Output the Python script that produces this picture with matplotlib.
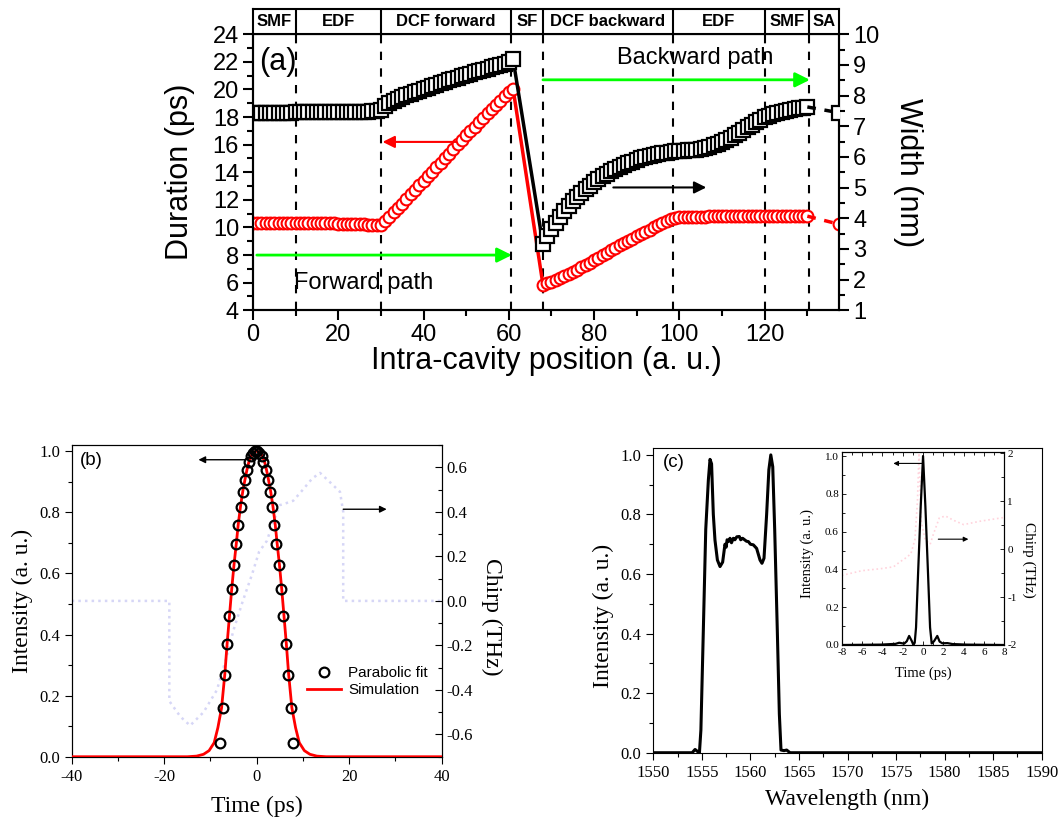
import numpy as np
import matplotlib
matplotlib.use("Agg")
import matplotlib.pyplot as plt
from matplotlib.ticker import MultipleLocator

plt.rcParams['font.family'] = ['Liberation Sans', 'DejaVu Sans']
plt.rcParams['axes.unicode_minus'] = False

# ---------------- panel (a): evolution along the cavity ----------------
pos_fwd = list(range(0, 62))
width_fwd = [7.44] * 10 + [7.45] * 10 + [
    7.46, 7.46, 7.46, 7.47, 7.47, 7.47, 7.48, 7.48, 7.49, 7.50,
    7.52,
    7.65, 7.75, 7.83, 7.90, 7.96, 8.01, 8.06, 8.11, 8.16, 8.20,
    8.25, 8.30, 8.35, 8.40, 8.45, 8.50, 8.54, 8.59, 8.63, 8.68,
    8.72, 8.76, 8.80, 8.84, 8.88, 8.92, 8.96, 9.00, 9.04, 9.08,
    9.18]
dur_fwd = [10.3] * 20 + [
    10.28, 10.27, 10.26, 10.25, 10.24, 10.23, 10.22, 10.21, 10.20, 10.18,
    10.15,
    10.45, 10.77, 11.09, 11.41, 11.73, 12.06, 12.39, 12.72, 13.05, 13.38,
    13.71, 14.04, 14.37, 14.70, 15.03, 15.36, 15.69, 16.02, 16.35, 16.67,
    16.99, 17.31, 17.63, 17.95, 18.26, 18.57, 18.88, 19.19, 19.50, 19.80,
    20.05]

pos_bwd = list(range(68, 131))
width_bwd = [
    3.15, 3.42, 3.65, 3.86, 4.05, 4.23, 4.40, 4.56, 4.70, 4.83,
    4.95, 5.06, 5.17, 5.27, 5.37, 5.45, 5.53, 5.60, 5.67, 5.74,
    5.80, 5.85, 5.90, 5.95, 5.99, 6.03, 6.06, 6.09, 6.12, 6.14, 6.16,
    6.18, 6.19, 6.20, 6.21, 6.22, 6.24, 6.27, 6.30, 6.34, 6.38,
    6.43, 6.48, 6.55, 6.62, 6.70, 6.78, 6.87, 6.96, 7.05, 7.14,
    7.22, 7.30, 7.35, 7.40, 7.44, 7.47, 7.50, 7.53, 7.56, 7.58,
    7.61, 7.63]
dur_bwd = [
    5.85, 5.95, 6.08, 6.20, 6.33, 6.47, 6.62, 6.78, 6.94, 7.10,
    7.27, 7.44, 7.62, 7.80, 7.98, 8.16, 8.34, 8.52, 8.70, 8.87,
    9.04, 9.20, 9.36, 9.52, 9.68, 9.84, 10.00, 10.15, 10.30, 10.45, 10.60,
    10.72, 10.75, 10.76, 10.77, 10.77, 10.78, 10.78, 10.79, 10.80, 10.80,
    10.81, 10.82, 10.82, 10.83, 10.83, 10.84, 10.84, 10.85, 10.85, 10.85,
    10.86, 10.86, 10.86, 10.86, 10.85, 10.85, 10.85, 10.84, 10.84, 10.83,
    10.83, 10.82]

sa_pos = [130, 137.5]
sa_width = [7.63, 7.44]
sa_dur = [10.82, 10.23]

section_edges = [0, 10, 30, 60.6, 68, 98.4, 120, 130.5, 137.5]
section_names = ['SMF', 'EDF', 'DCF forward', 'SF', 'DCF backward', 'EDF', 'SMF', 'SA']

# ---------------- panel (b): output pulse ----------------
fit_t = [-7.93, -7.35, -6.77, -6.34, -5.91, -5.40, -4.90, -4.40, -4.04, -3.46, -2.95,
         -2.45, -2.09, -1.73, -1.30, -0.86, -0.36,
         0.14, 0.58, 1.08, 1.44, 1.95, 2.38, 2.88, 3.32, 3.82, 4.25, 4.90, 5.26,
         5.77, 6.27, 6.77, 7.35, 7.78]
fit_I = [0.046, 0.161, 0.269, 0.369, 0.462, 0.548, 0.626, 0.697, 0.760, 0.817, 0.865,
         0.906, 0.940, 0.965, 0.983, 0.995, 1.0,
         1.0, 0.995, 0.983, 0.965, 0.940, 0.906, 0.865, 0.817, 0.760, 0.697, 0.626,
         0.548, 0.462, 0.369, 0.269, 0.161, 0.046]

sim_t = [-40, -20, -15, -13, -11.5, -10.3, -9.2, -8.4, -7.6, -6.9, -6.4, -5.9, -5.4,
         -4.9, -4.4, -4.0, -3.5, -3.0, -2.5, -2.1, -1.7, -1.2, -0.6, 0,
         0.6, 1.2, 1.7, 2.1, 2.5, 3.0, 3.5, 4.0, 4.4, 4.9, 5.4, 5.9, 6.4, 6.9,
         7.6, 8.4, 9.2, 10.3, 11.5, 13, 15, 20, 40]
sim_I = [0, 0, 0, 0.002, 0.008, 0.02, 0.046, 0.095, 0.16, 0.27, 0.37, 0.46, 0.55,
         0.63, 0.70, 0.76, 0.82, 0.87, 0.91, 0.94, 0.965, 0.985, 0.997, 1.0,
         0.997, 0.985, 0.965, 0.94, 0.91, 0.87, 0.82, 0.76, 0.70, 0.63, 0.55, 0.46,
         0.37, 0.27, 0.16, 0.095, 0.046, 0.02, 0.008, 0.002, 0, 0, 0]

chirp_t = [-40, -18.9, -18.9, -16.5, -14.4, -11.5, -8.6, -6.5, -5.0, -3.0, -1.0, 0.5,
           2.2, 3.5, 5.0, 6.5, 7.9, 10.0, 12.0, 13.7, 16.0, 18.0, 18.7, 18.7, 40]
chirp_b = [0, 0, -0.45, -0.52, -0.56, -0.50, -0.40, -0.25, -0.13, 0.0, 0.12, 0.22,
           0.27, 0.35, 0.43, 0.44, 0.45, 0.50, 0.55, 0.575, 0.53, 0.49, 0.40, 0, 0]

# ---------------- panel (c): spectrum + inset ----------------
wl = [1550, 1554.0, 1554.3, 1554.6, 1554.75, 1554.9, 1555.15, 1555.4, 1555.67, 1555.84,
      1556.0, 1556.18, 1556.35, 1556.6, 1556.87, 1557.14, 1557.38, 1557.5, 1557.6,
      1557.73, 1557.9, 1558.05, 1558.24, 1558.4, 1558.6, 1558.86, 1559.0, 1559.2,
      1559.44, 1559.6, 1559.79, 1560.0, 1560.3, 1560.64, 1560.99, 1561.19, 1561.4,
      1561.67, 1561.9, 1562.1, 1562.3, 1562.5, 1562.77, 1562.98, 1563.15, 1563.46,
      1563.73, 1564.08, 1590]
spec = [0, 0, 0.011, 0.003, 0.0, 0.076, 0.41, 0.75, 0.916, 0.985,
        0.97, 0.80, 0.714, 0.647, 0.625, 0.64, 0.70, 0.69, 0.715,
        0.709, 0.72, 0.705, 0.72, 0.715, 0.725, 0.726, 0.715, 0.72,
        0.714, 0.71, 0.709, 0.70, 0.698, 0.686, 0.647, 0.636, 0.653,
        0.80, 0.95, 1.0, 0.96, 0.75, 0.41, 0.13, 0.009, 0.007,
        0.009, 0.0, 0]

in_t = [-8, -4.15, -2.7, -2.35, -1.86, -1.6, -1.37, -1.1, -0.95, -0.82, -0.69, -0.49,
        -0.23, 0, 0.23, 0.49, 0.69, 0.85, 1.08, 1.4, 1.63, 1.9, 2.4, 2.9, 4.3, 8]
in_I = [0, 0.002, 0.006, 0.012, 0.007, 0.02, 0.048, 0.02, 0.0, 0.012, 0.093, 0.377,
        0.733, 1.0, 0.733, 0.377, 0.093, 0.008, 0.02, 0.048, 0.018, 0.009, 0.01,
        0.005, 0.002, 0]
in_ct = [-8, -6, -4.2, -2.9, -2.3, -1.8, -1.2, -0.8, -0.55, -0.4, -0.2, 0.2, 0.7,
         1.0, 1.6, 2.2, 3.0, 4.0, 5.6, 7.7, 8]
in_chirp = [-0.55, -0.45, -0.41, -0.37, -0.27, -0.2, -0.1, 0.2, 1.0, 2.0, 0.6, 0.2,
            0.1, 0.3, 0.65, 0.69, 0.6, 0.51, 0.58, 0.65, 0.66]

serif = ['Liberation Serif', 'DejaVu Serif']

fig = plt.figure(figsize=(10.58, 8.18), dpi=100)


def arrow(ax, x0, x1, y, color, lw, ms):
    ax.annotate('', xy=(x1, y), xytext=(x0, y),
                arrowprops=dict(arrowstyle='-|>', color=color, lw=lw,
                                mutation_scale=ms, shrinkA=0, shrinkB=0))


# ================= (a) =================
ax = fig.add_axes([0.2391, 0.6207, 0.5542, 0.3374])
ax2 = ax.twinx()
xa = pos_fwd + pos_bwd
ax.plot(xa, dur_fwd + dur_bwd, color='red', lw=2.5, marker='o', ms=8.5,
        mfc='white', mec='red', mew=1.5, zorder=3)
ax.plot(sa_pos, sa_dur, color='red', lw=2.5, ls=(0, (2.5, 2.5)), marker='o', ms=8.5,
        mfc='white', mec='red', mew=1.5, markevery=[1], zorder=3)
ax2.plot(xa, width_fwd + width_bwd, color='black', lw=2.5, marker='s', ms=9.5,
         mfc='white', mec='black', mew=1.6, zorder=3)
ax2.plot(sa_pos, sa_width, color='black', lw=2.5, ls=(0, (2.5, 2.5)), marker='s', ms=9.5,
         mfc='white', mec='black', mew=1.6, markevery=[1], zorder=3)

for xe in section_edges[1:-1]:
    ax.axvline(xe, color='black', lw=1.5, ls=(0, (4, 4)), zorder=1)

ax.set_xlim(0, 137.5)
ax.set_ylim(4, 24)
ax2.set_ylim(1, 10)
ax.xaxis.set_major_locator(MultipleLocator(20))
ax.xaxis.set_minor_locator(MultipleLocator(10))
ax.yaxis.set_major_locator(MultipleLocator(2))
ax.yaxis.set_minor_locator(MultipleLocator(1))
ax2.yaxis.set_major_locator(MultipleLocator(1))
ax2.yaxis.set_minor_locator(MultipleLocator(0.5))
for a in (ax, ax2):
    a.tick_params(which='major', direction='out', length=7, width=1.5, labelsize=17, pad=3)
    a.tick_params(which='minor', direction='out', length=4, width=1.5)
    for s in a.spines.values():
        s.set_linewidth(1.5)
ax.set_xticks([0, 20, 40, 60, 80, 100, 120])

ax.set_xlabel('Intra-cavity position (a. u.)', fontsize=22)
ax.xaxis.set_label_coords(0.5, -0.13)
ax.set_ylabel('Duration (ps)', fontsize=22, va='center')
ax.yaxis.set_label_coords(-0.125, 0.5)
ax2.set_ylabel('Width (nm)', fontsize=22, rotation=270, va='center')
ax2.yaxis.set_label_coords(1.118, 0.5)

ax.text(0.01, 0.9, '(a)', transform=ax.transAxes, fontsize=22, va='center', ha='left')
ax.text(26, 6.0, 'Forward path', fontsize=17, ha='center', va='center')
ax.text(103.7, 22.3, 'Backward path', fontsize=17, ha='center', va='center')
arrow(ax, 0.9, 60.7, 8.0, '#00ff00', 2, 22)
arrow(ax, 68.0, 130.6, 20.7, '#00ff00', 2, 22)
arrow(ax, 47.7, 30.4, 16.2, 'red', 1.5, 18)
arrow(ax, 84.5, 106.3, 12.9, 'black', 1.5, 18)

# header strip with the fibre sections
hd = fig.add_axes([0.2391, 0.9581, 0.5542, 0.0309])
hd.set_xlim(0, 137.5)
hd.set_ylim(0, 1)
hd.set_xticks([])
hd.set_yticks([])
for s in hd.spines.values():
    s.set_linewidth(1.5)
for xe in section_edges[1:-1]:
    hd.axvline(xe, color='black', lw=1.5)
for i, name in enumerate(section_names):
    xc = 0.5 * (section_edges[i] + section_edges[i + 1])
    hd.text(xc, 0.5, name, ha='center', va='center', fontsize=12, fontweight='bold')

# ================= (b) =================
bx = fig.add_axes([0.0678, 0.0749, 0.3497, 0.3810])
bx2 = bx.twinx()
bx2.plot(chirp_t, chirp_b, color='#d6d6f6', lw=1.8, ls=':', zorder=1)
bx.plot(sim_t, sim_I, color='red', lw=2, label='Simulation', zorder=3)
bx.plot(fit_t, fit_I, ls='none', marker='o', ms=7, mfc='none', mec='black', mew=1.6,
        label='Parabolic fit', zorder=4)
bx.set_zorder(bx2.get_zorder() + 1)
bx.patch.set_visible(False)
bx.set_xlim(-40, 40)
bx.set_ylim(0, 1.02)
bx2.set_ylim(-0.7, 0.7)
bx.xaxis.set_major_locator(MultipleLocator(20))
bx.xaxis.set_minor_locator(MultipleLocator(10))
bx.yaxis.set_major_locator(MultipleLocator(0.2))
bx.yaxis.set_minor_locator(MultipleLocator(0.1))
bx2.yaxis.set_major_locator(MultipleLocator(0.2))
bx2.yaxis.set_minor_locator(MultipleLocator(0.1))
bx.tick_params(which='major', direction='out', length=5, width=0.8, labelsize=12)
bx.tick_params(which='minor', direction='out', length=3, width=0.8)
bx2.tick_params(which='major', direction='in', length=5, width=0.8, labelsize=12)
bx2.tick_params(which='minor', direction='in', length=3, width=0.8)
for t in bx.get_xticklabels() + bx.get_yticklabels() + bx2.get_yticklabels():
    t.set_family(serif)
bx.yaxis.set_major_formatter(lambda v, p: f'{v:.1f}')
bx2.yaxis.set_major_formatter(lambda v, p: f'{v:.1f}')
bx.set_xlabel('Time (ps)', fontsize=17, family=serif, va='center')
bx.xaxis.set_label_coords(0.5, -0.16)
bx.set_ylabel('Intensity (a. u.)', fontsize=17, family=serif, va='center')
bx.yaxis.set_label_coords(-0.134, 0.5)
bx2.set_ylabel('Chirp (THz)', fontsize=17, family=serif, rotation=270, va='center')
bx2.yaxis.set_label_coords(1.135, 0.45)
bx.text(0.022, 0.95, '(b)', transform=bx.transAxes, fontsize=13.5, va='center')
arrow(bx, -2.5, -12.6, 0.972, 'black', 1, 10)
arrow(bx, 18.7, 28.1, 0.81, 'black', 1, 10)
h, l = bx.get_legend_handles_labels()
bx.legend(h[::-1], l[::-1], loc='upper left', bbox_to_anchor=(0.62, 0.31), frameon=False,
          fontsize=11, handlelength=2.2, handletextpad=0.5, labelspacing=0.2,
          borderaxespad=0)
for s in list(bx.spines.values()) + list(bx2.spines.values()):
    s.set_linewidth(0.8)

# ================= (c) =================
cx = fig.add_axes([0.6175, 0.0798, 0.3671, 0.3721])
cx.plot(wl, spec, color='black', lw=2.2)
cx.set_xlim(1550, 1590)
cx.set_ylim(0, 1.022)
cx.xaxis.set_major_locator(MultipleLocator(5))
cx.xaxis.set_minor_locator(MultipleLocator(2.5))
cx.yaxis.set_major_locator(MultipleLocator(0.2))
cx.yaxis.set_minor_locator(MultipleLocator(0.1))
cx.tick_params(which='major', direction='out', length=5, width=0.8, labelsize=12)
cx.tick_params(which='minor', direction='out', length=3, width=0.8)
cx.yaxis.set_major_formatter(lambda v, p: f'{v:.1f}')
for t in cx.get_xticklabels() + cx.get_yticklabels():
    t.set_family(serif)
cx.set_xlabel('Wavelength (nm)', fontsize=17, family=serif, va='center')
cx.xaxis.set_label_coords(0.5, -0.155)
cx.set_ylabel('Intensity (a. u.)', fontsize=17, family=serif, va='center')
cx.yaxis.set_label_coords(-0.129, 0.45)
cx.text(0.024, 0.955, '(c)', transform=cx.transAxes, fontsize=13.5, va='center')
for s in cx.spines.values():
    s.set_linewidth(0.8)

# inset
ix = fig.add_axes([0.7956, 0.2115, 0.1537, 0.2363])
ix2 = ix.twinx()
ix2.plot(in_ct, in_chirp, color='#ffd3dc', lw=1.2, ls=':')
ix.plot(in_t, in_I, color='black', lw=1.6)
ix.set_zorder(ix2.get_zorder() + 1)
ix.patch.set_visible(False)
ix.set_xlim(-8, 8)
ix.set_ylim(0, 1.023)
ix2.set_ylim(-2, 2.03)
ix.xaxis.set_major_locator(MultipleLocator(2))
ix.xaxis.set_minor_locator(MultipleLocator(1))
ix.yaxis.set_major_locator(MultipleLocator(0.2))
ix.yaxis.set_minor_locator(MultipleLocator(0.1))
ix2.yaxis.set_major_locator(MultipleLocator(1))
ix2.yaxis.set_minor_locator(MultipleLocator(0.5))
ix.tick_params(which='major', direction='in', length=3, width=0.6, labelsize=8, pad=2)
ix.tick_params(which='minor', direction='in', length=2, width=0.6)
ix.tick_params(axis='x', which='both', top=True)
ix2.tick_params(which='major', direction='in', length=3, width=0.6, labelsize=8, pad=2)
ix2.tick_params(which='minor', direction='in', length=2, width=0.6)
ix.yaxis.set_major_formatter(lambda v, p: f'{v:.1f}')
ix2.yaxis.set_major_formatter(lambda v, p: f'{v:.0f}')
for t in ix.get_xticklabels() + ix.get_yticklabels() + ix2.get_yticklabels():
    t.set_family(serif)
ix.set_xlabel('Time (ps)', fontsize=10.5, family=serif, va='center')
ix.xaxis.set_label_coords(0.5, -0.146)
ix.set_ylabel('Intensity (a. u.)', fontsize=10.5, family=serif, va='center')
ix.yaxis.set_label_coords(-0.215, 0.474)
ix2.set_ylabel('Chirp (THz)', fontsize=11, family=serif, rotation=270, va='center')
ix2.yaxis.set_label_coords(1.148, 0.44)
arrow(ix, -0.13, -2.92, 0.961, 'black', 0.8, 7)
arrow(ix, 1.5, 4.46, 0.56, 'black', 0.8, 7)
for s in list(ix.spines.values()) + list(ix2.spines.values()):
    s.set_linewidth(0.8)

fig.savefig('out.png', dpi=100)
